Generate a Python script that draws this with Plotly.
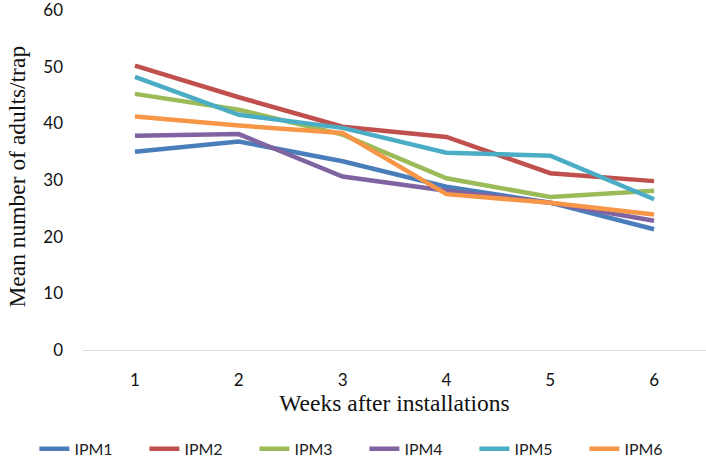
import plotly.graph_objects as go

weeks = [1, 2, 3, 4, 5, 6]
week_labels = ["1", "2", "3", "4", "5", "6"]
ipm1 = [35.0, 36.8, 33.3, 28.8, 26.0, 21.3]
ipm2 = [50.2, 44.6, 39.4, 37.6, 31.2, 29.8]
ipm3 = [45.2, 42.4, 38.0, 30.3, 27.0, 28.1]
ipm4 = [37.8, 38.1, 30.6, 28.1, 26.0, 22.8]
ipm5 = [48.2, 41.5, 39.2, 34.8, 34.3, 26.6]
ipm6 = [41.2, 39.6, 38.3, 27.5, 26.0, 23.9]

series = [
    ("IPM1", ipm1, "#4A7EBB"),
    ("IPM2", ipm2, "#C0504D"),
    ("IPM3", ipm3, "#9BBB59"),
    ("IPM4", ipm4, "#8064A2"),
    ("IPM5", ipm5, "#4BACC6"),
    ("IPM6", ipm6, "#F79646"),
]

serif = "Liberation Serif, Times New Roman, serif"
sans = "Lato, Open Sans, sans-serif"

fig = go.Figure()
for name, vals, color in series:
    fig.add_trace(go.Scatter(x=weeks, y=vals, name=name, mode="lines",
                             line=dict(color=color, width=4.5)))

fig.update_layout(
    width=706, height=457,
    margin=dict(l=83, r=0, t=10, b=107, autoexpand=False),
    plot_bgcolor="white", paper_bgcolor="white",
    showlegend=True,
    legend=dict(orientation="h", x=-0.078, xref="paper", xanchor="left",
                y=-0.291, yanchor="middle",
                entrywidth=65, entrywidthmode="pixels",
                itemwidth=30,
                font=dict(family=sans, size=16, color="#222")),
    xaxis=dict(
        range=[0.5, 6.5], tickvals=weeks, ticktext=week_labels,
        showgrid=False, zeroline=False,
        showline=True, linecolor="#d9d9d9", linewidth=1.3,
        ticks="", ticklabelstandoff=14,
        tickfont=dict(family=sans, size=17, color="#111"),
        title=dict(text="Weeks after installations", standoff=5,
                   font=dict(family=serif, size=23.5, color="#111")),
    ),
    yaxis=dict(
        range=[0, 60], tickvals=[0, 10, 20, 30, 40, 50, 60],
        showgrid=False, zeroline=False, showline=False,
        ticks="", ticklabelstandoff=19, ticklabeloverflow="allow",
        tickfont=dict(family=sans, size=17, color="#111"),
    ),
    annotations=[dict(text="Mean number of adults/trap", xref="paper", yref="paper",
                      x=-0.106, y=0.51, xanchor="center", yanchor="middle",
                      textangle=-90, showarrow=False,
                      font=dict(family=serif, size=23.5, color="#111"))],
)

fig.write_html("out.html", post_script="document.body.style.margin='0';",
               config={"displayModeBar": False})
